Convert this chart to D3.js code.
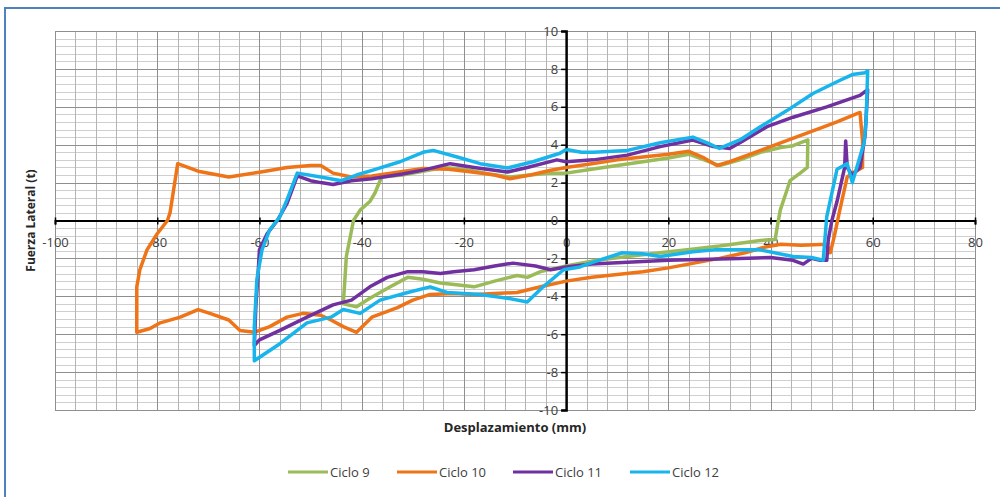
<!DOCTYPE html>
<html>
<head>
<meta charset="utf-8">
<style>
  body { margin: 0; background: #fff; }
  svg text { font-family: "Open Sans", "Liberation Sans", sans-serif; }
</style>
</head>
<body>
<svg id="chart" width="1000" height="497"></svg>
<script src="https://cdn.jsdelivr.net/npm/d3@7/dist/d3.min.js"></script>
<script>
// series names and colours
let seriesNames = ["Ciclo 9", "Ciclo 10", "Ciclo 11", "Ciclo 12"];
let seriesColors = ["#9bbb59", "#ee7417", "#7030a0", "#18b4ec"];

// tick labels
let xTicks = [-100, -80, -60, -40, -20, 0, 20, 40, 60, 80];
let yTicks = [-10, -8, -6, -4, -2, 0, 2, 4, 6, 8, 10];

// [desplazamiento mm, fuerza t]
let ciclo9 = [[0,2.5],[5,2.7],[10,2.9],[15,3.1],[20,3.3],[24,3.5],[27,3.2],[30,2.9],[34,3.2],[38,3.6],[42,3.85],[44.4,3.95],[47.3,4.25],[47.2,2.8],[45.8,2.5],[43.8,2.1],[43.2,1.6],[41.9,0.55],[41.3,-0.35],[40.9,-1.0],[38,-1.05],[34,-1.2],[30,-1.35],[25,-1.5],[18.4,-1.7],[12,-1.9],[6,-2.1],[0,-2.4],[-5,-2.7],[-7.6,-3.0],[-9.6,-2.9],[-14,-3.2],[-18,-3.5],[-21,-3.4],[-24.6,-3.3],[-28,-3.1],[-31,-3.0],[-34.4,-3.5],[-38.4,-4.1],[-41,-4.55],[-43.6,-4.4],[-43.3,-3.2],[-43,-1.9],[-41.6,0],[-40.3,0.55],[-38.4,1.0],[-37.4,1.45],[-36.4,2.1],[-36,2.3],[-32,2.4],[-28,2.6],[-24,2.8],[-20,2.7],[-15,2.45],[-11,2.3],[-7,2.4],[-3,2.5],[0,2.5]];

let ciclo10 = [[0,2.8],[5,3.0],[10,3.2],[15,3.35],[20,3.5],[24,3.65],[27,3.3],[29.5,2.9],[32,3.1],[35,3.4],[40,3.9],[45,4.4],[50,4.9],[53,5.2],[55.6,5.5],[57.5,5.7],[58,4.2],[58,2.8],[56,2.5],[55,2.3],[53.5,0.5],[52.5,-0.8],[51.7,-1.7],[51,-1.25],[46,-1.3],[42,-1.25],[39,-1.4],[35,-1.7],[30,-2.0],[25,-2.25],[20,-2.5],[15,-2.7],[10,-2.85],[5,-3.0],[0,-3.2],[-5,-3.5],[-9.6,-3.8],[-14,-3.85],[-18,-3.9],[-22,-3.85],[-26.6,-3.9],[-30,-4.2],[-33,-4.6],[-38,-5.1],[-41,-5.9],[-43.6,-5.6],[-46,-5.25],[-48,-5.0],[-51.5,-4.9],[-54.6,-5.1],[-58,-5.6],[-61,-5.9],[-63.8,-5.8],[-66,-5.25],[-69.7,-4.9],[-72,-4.7],[-75.5,-5.1],[-79.4,-5.4],[-81.4,-5.7],[-84,-5.9],[-84,-4.5],[-84,-3.5],[-83.4,-2.6],[-82,-1.55],[-80,-0.7],[-78,0],[-77.5,0.4],[-76,3.0],[-72,2.6],[-66,2.3],[-60,2.55],[-54.6,2.8],[-50,2.9],[-48,2.9],[-45.6,2.5],[-42,2.3],[-38,2.35],[-33,2.55],[-28,2.75],[-23,2.7],[-18,2.55],[-14,2.4],[-11,2.2],[-7,2.4],[-3,2.65],[0,2.8]];

let ciclo11 = [[0,3.1],[5.3,3.2],[12,3.45],[18.4,3.9],[24.8,4.25],[28.8,3.9],[32,3.8],[34,4.1],[39.3,4.95],[44.4,5.45],[51,6.0],[57.5,6.6],[59,6.9],[58.5,4.5],[57.5,2.8],[56,2.4],[55,2.8],[54.7,4.2],[54.5,2.8],[53,1.0],[52,0],[51.3,-1.0],[51,-2.1],[49.7,-2.1],[48,-2.0],[46.4,-2.3],[44.4,-2.1],[40,-1.95],[34,-2.0],[28,-2.05],[20,-2.1],[12,-2.2],[5,-2.3],[0,-2.45],[-3,-2.6],[-6,-2.4],[-10.4,-2.25],[-14,-2.4],[-18,-2.6],[-22,-2.7],[-24.6,-2.8],[-28,-2.7],[-31,-2.7],[-35,-3.0],[-38.4,-3.5],[-42,-4.2],[-45.6,-4.45],[-50.7,-5.1],[-56,-5.8],[-60,-6.3],[-61,-6.6],[-60.7,-4.5],[-60.2,-2.5],[-60,-1.55],[-58.5,-0.7],[-56.5,0],[-54.6,0.9],[-52.6,2.35],[-50,2.1],[-48,2.0],[-45.6,1.9],[-42,2.1],[-38,2.2],[-35.8,2.3],[-32,2.45],[-28,2.66],[-22.7,3.0],[-18,2.8],[-11.5,2.56],[-7.6,2.8],[-1.8,3.2],[0,3.1]];

let ciclo12 = [[0,3.75],[3,3.6],[5.3,3.6],[12,3.7],[18.4,4.1],[24.8,4.4],[27.6,4.1],[30,3.8],[34,4.25],[38,4.95],[43.2,5.8],[48.3,6.7],[53.6,7.4],[56,7.7],[58.5,7.8],[59,7.9],[58.7,5.3],[58.3,4.1],[56,2.0],[55,3.0],[53,2.7],[51,0.2],[50.3,-2.1],[48,-1.95],[44.4,-1.9],[38,-1.55],[34,-1.55],[29,-1.55],[24.8,-1.65],[18.4,-1.9],[15,-1.75],[11,-1.7],[5.3,-2.2],[2.7,-2.45],[-0.5,-2.6],[-4.5,-3.5],[-7.6,-4.3],[-11.5,-4.1],[-16.8,-3.9],[-23.3,-3.8],[-26.6,-3.5],[-31,-3.8],[-36.4,-4.2],[-40.3,-4.9],[-43.6,-4.7],[-46,-5.1],[-50.7,-5.4],[-56,-6.5],[-61,-7.4],[-61,-5.6],[-60.5,-3.1],[-59.5,-1.55],[-58,-0.5],[-56,0.2],[-54.6,1.1],[-52.6,2.5],[-48,2.3],[-44,2.1],[-41,2.4],[-37.8,2.66],[-32.5,3.1],[-28,3.6],[-26,3.7],[-21.3,3.35],[-16.8,3.0],[-11.5,2.77],[-6.5,3.1],[-1.2,3.55],[0,3.75]];

let allSeries = [ciclo9, ciclo10, ciclo11, ciclo12];

let svg = d3.select("#chart");

// outer frame
svg.append("rect")
    .attr("x", 5).attr("y", 8)
    .attr("width", 1010).attr("height", 510)
    .attr("fill", "#fff")
    .attr("stroke", "#4f81bd").attr("stroke-width", 2);

let plot = { left: 55, right: 975, top: 31, bottom: 410 };

let x = d3.scaleLinear().domain([-100, 80]).range([plot.left, plot.right]);
let y = d3.scaleLinear().domain([-10, 10]).range([plot.bottom, plot.top]);

// grid: minor then major
let grid = svg.append("g");
grid.selectAll(".hmin")
    .data(d3.range(-10, 10.001, 0.4))
    .enter().append("line")
    .attr("x1", plot.left).attr("x2", plot.right)
    .attr("y1", d => Math.round(y(d)) + 0.5).attr("y2", d => Math.round(y(d)) + 0.5)
    .attr("stroke", "#cfcfcf");
grid.selectAll(".vmin")
    .data(d3.range(-100, 80.001, 4))
    .enter().append("line")
    .attr("y1", plot.top).attr("y2", plot.bottom)
    .attr("x1", d => Math.round(x(d)) + 0.5).attr("x2", d => Math.round(x(d)) + 0.5)
    .attr("stroke", "#b4b4b4");
grid.selectAll(".hmaj")
    .data(yTicks)
    .enter().append("line")
    .attr("x1", plot.left).attr("x2", plot.right)
    .attr("y1", d => Math.round(y(d)) + 0.5).attr("y2", d => Math.round(y(d)) + 0.5)
    .attr("stroke", "#8f8f8f");
grid.selectAll(".vmaj")
    .data(xTicks)
    .enter().append("line")
    .attr("y1", plot.top).attr("y2", plot.bottom)
    .attr("x1", d => Math.round(x(d)) + 0.5).attr("x2", d => Math.round(x(d)) + 0.5)
    .attr("stroke", "#8f8f8f");

// axes crossing at zero
let xAxis = d3.axisBottom(x).tickValues(xTicks).tickSize(4).tickFormat(d => String(d));
let yAxis = d3.axisLeft(y).tickValues(yTicks).tickSize(5).tickFormat(d => String(d));

let gx = svg.append("g").attr("transform", `translate(0,${y(0)})`).call(xAxis);
gx.select(".domain").attr("stroke", "#000").attr("stroke-width", 2);
gx.selectAll(".tick line").attr("stroke", "#000").attr("stroke-width", 1.5).attr("y1", -3);
gx.selectAll(".tick text").attr("y", 17).attr("font-size", 13).attr("fill", "#404040");

let gy = svg.append("g").attr("transform", `translate(${x(0)},0)`).call(yAxis);
gy.select(".domain").attr("stroke", "#000").attr("stroke-width", 2.5);
gy.selectAll(".tick line").attr("stroke", "#000").attr("stroke-width", 1.5);
gy.selectAll(".tick text").attr("x", -8).attr("font-size", 13).attr("fill", "#404040");

// curves
let line = d3.line().x(d => x(d[0])).y(d => y(d[1]));
svg.append("g").selectAll("path")
    .data(allSeries)
    .enter().append("path")
    .attr("d", line)
    .attr("fill", "none")
    .attr("stroke", (d, i) => seriesColors[i])
    .attr("stroke-width", 3.5)
    .attr("stroke-linejoin", "round");

// axis titles
svg.append("text")
    .attr("x", (plot.left + plot.right) / 2).attr("y", 432)
    .attr("text-anchor", "middle")
    .attr("font-size", 13).attr("font-weight", "bold").attr("fill", "#262626")
    .text("Desplazamiento (mm)");

svg.append("text")
    .attr("transform", `translate(35,${(plot.top + plot.bottom) / 2}) rotate(-90)`)
    .attr("text-anchor", "middle")
    .attr("font-size", 12).attr("font-weight", "bold").attr("fill", "#262626")
    .text("Fuerza Lateral (t)");

// legend
let legendX = [288, 397, 513, 630];
let legend = svg.append("g").selectAll("g")
    .data(seriesNames)
    .enter().append("g")
    .attr("transform", (d, i) => `translate(${legendX[i]},472)`);
legend.append("line")
    .attr("x1", 0).attr("x2", 40)
    .attr("stroke", (d, i) => seriesColors[i])
    .attr("stroke-width", 3);
legend.append("text")
    .attr("x", 42).attr("dy", "0.35em")
    .attr("font-size", 13).attr("fill", "#404040")
    .text(d => d);
</script>
</body>
</html>
